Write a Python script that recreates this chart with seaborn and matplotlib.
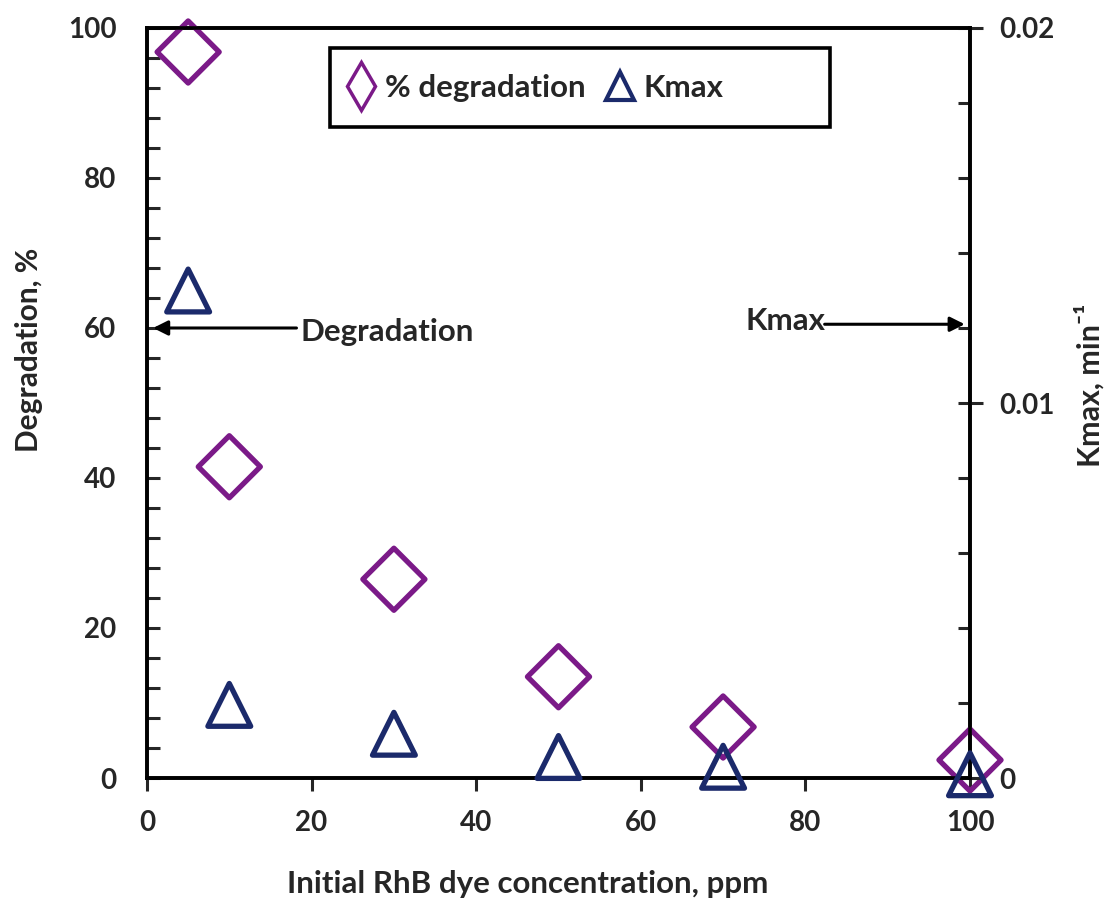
import matplotlib
matplotlib.use("Agg")
import matplotlib.pyplot as plt
from matplotlib.lines import Line2D
from matplotlib.patches import Rectangle
from matplotlib.ticker import MultipleLocator
import seaborn as sns
import pandas as pd

concentration = [5, 10, 30, 50, 70, 100]
degradation = [96.8, 41.5, 26.5, 13.5, 6.8, 2.4]
kmax = [0.0130, 0.00195, 0.00118, 0.00056, 0.00030, 0.00010]

purple = "#7b1a88"
navy = "#1b2a6b"

sns.set_theme(style="white")
plt.rcParams["font.family"] = ["Lato", "DejaVu Sans"]
plt.rcParams["font.weight"] = "bold"

fig = plt.figure(figsize=(11.05, 9.05), dpi=100)
ax = fig.add_axes([147/1105, 1 - 778/905, 823/1105, 750/905])
ax2 = ax.twinx()

df = pd.DataFrame({"conc": concentration, "deg": degradation, "k": kmax})

sns.scatterplot(data=df, x="conc", y="deg", ax=ax, marker="D", s=1000,
                facecolor="none", edgecolor=purple, linewidth=3.8, zorder=5, clip_on=False)
sns.scatterplot(data=df, x="conc", y="k", ax=ax2, marker="^", s=950,
                facecolor="none", edgecolor=navy, linewidth=3.8, zorder=5, clip_on=False)

ax.set_xlim(0, 100)
ax.set_ylim(0, 100)
ax2.set_ylim(0, 0.02)

fs = 20
fs2 = 22.5
ax.set_xticks([0, 20, 40, 60, 80, 100])
ax.set_yticks([0, 20, 40, 60, 80, 100])
ax.yaxis.set_minor_locator(MultipleLocator(4))
ax2.set_yticks([0, 0.01, 0.02])
ax2.set_yticklabels(["0", "0.01", "0.02"])
ax2.yaxis.set_minor_locator(MultipleLocator(0.002))

ax.tick_params(axis="x", direction="out", length=9, width=2.2, labelsize=fs, pad=14, bottom=True)
ax.tick_params(axis="y", which="major", direction="in", length=9, width=2.2, labelsize=fs, pad=22, left=True)
ax.tick_params(axis="y", which="minor", direction="in", length=9, width=2.2, left=True)
ax2.tick_params(axis="y", which="major", direction="inout", length=18, width=2.2, labelsize=fs, pad=12, right=True)
ax2.tick_params(axis="y", which="minor", direction="in", length=9, width=2.2, right=True)

for a in (ax, ax2):
    for sp in a.spines.values():
        sp.set_linewidth(2.6)
        sp.set_color("black")
    for lbl in a.get_xticklabels() + a.get_yticklabels():
        lbl.set_fontweight("bold")

ax.set_xlabel("Initial RhB dye concentration, ppm", fontsize=fs2, fontweight="bold")
ax.xaxis.set_label_coords(0.462, -0.123)
ax.set_ylabel("Degradation, %", fontsize=21.5, fontweight="bold")
ax.yaxis.set_label_coords(-0.126, 0.571)
ax2.set_ylabel("Kmax, min⁻¹", fontsize=22, fontweight="bold")
ax2.yaxis.set_label_coords(1.127, 0.524)

ax.annotate("", xy=(0.4, 60), xytext=(18.5, 60),
            arrowprops=dict(arrowstyle="-|>", color="black", lw=2.2, mutation_scale=22))
ax.text(18.6, 59.4, "Degradation", fontsize=fs2, fontweight="bold", va="center", ha="left")
ax.annotate("", xy=(99.7, 60.5), xytext=(82, 60.5),
            arrowprops=dict(arrowstyle="-|>", color="black", lw=2.2, mutation_scale=22))
ax.text(82.5, 60.9, "Kmax", fontsize=fs2, fontweight="bold", va="center", ha="right")

# legend frame
frame = Rectangle((0.2224, 0.868), 0.6075, 0.105, transform=ax.transAxes, fill=False,
                  edgecolor="black", linewidth=2.6, zorder=6)
ax2.add_patch(frame)
handles = [
    Line2D([], [], marker="d", linestyle="none", markersize=24, markerfacecolor="none",
           markeredgecolor=purple, markeredgewidth=2.5, label="% degradation"),
    Line2D([], [], marker="^", linestyle="none", markersize=20, markerfacecolor="none",
           markeredgecolor=navy, markeredgewidth=3.0, label="Kmax"),
]
leg = ax2.legend(handles=handles, loc="center left", bbox_to_anchor=(0.2224, 0.9205), ncol=2,
                 frameon=False, borderaxespad=0, borderpad=0.5,
                 handletextpad=0.25, columnspacing=0.6, handlelength=1.0,
                 prop={"weight": "bold", "size": fs2})
if ax.get_legend() is not None:
    ax.get_legend().remove()

fig.savefig("out.png", dpi=100)
